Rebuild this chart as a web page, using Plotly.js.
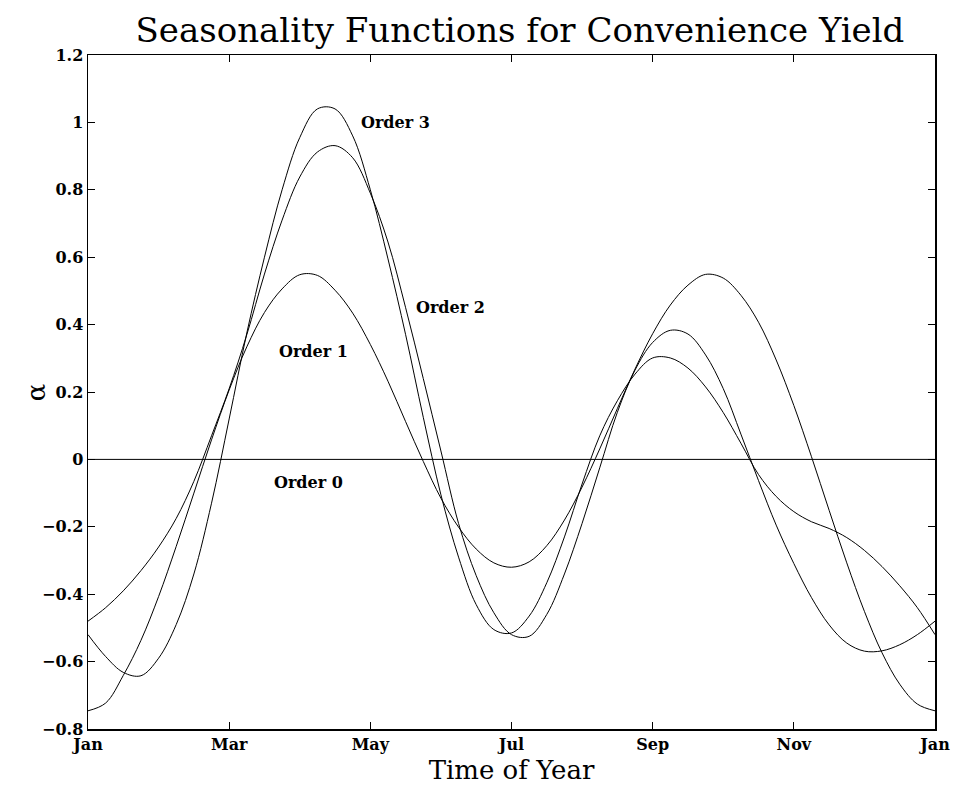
<!DOCTYPE html>
<html>
<head>
<meta charset="utf-8">
<script src="https://cdn.plot.ly/plotly-3.0.1.min.js"></script>
<style>html,body{margin:0;padding:0;background:#fff}#chart{width:958px;height:789px}</style>
</head>
<body>
<div id="chart"></div>
<script>
// months since January (0 = Jan, 12 = next Jan), quarter-month steps
const months = [0,0.25,0.5,0.75,1,1.25,1.5,1.75,2,2.25,2.5,2.75,3,3.25,3.5,3.75,4,4.25,4.5,4.75,5,5.25,5.5,5.75,6,
                6.25,6.5,6.75,7,7.25,7.5,7.75,8,8.25,8.5,8.75,9,9.25,9.5,9.75,10,10.25,10.5,10.75,11,11.25,11.5,11.75,12];
const order0 = [0,0,0,0,0,0,0,0,0,0,0,0,0,0,0,0,0,0,0,0,0,0,0,0,0,
                0,0,0,0,0,0,0,0,0,0,0,0,0,0,0,0,0,0,0,0,0,0,0,0];
const order1 = [-0.746,-0.723,-0.641,-0.537,-0.407,-0.258,-0.100,0.058,0.206,0.334,0.436,0.506,0.548,0.546,0.502,0.434,0.341,0.232,0.112,-0.006,-0.115,-0.201,-0.266,-0.307,-0.320,
                -0.304,-0.256,-0.180,-0.082,0.031,0.151,0.268,0.373,0.458,0.517,0.549,0.538,0.487,0.407,0.295,0.160,0.008,-0.151,-0.307,-0.451,-0.574,-0.667,-0.726,-0.746];
const order2 = [-0.48,-0.44,-0.39,-0.33,-0.26,-0.175,-0.065,0.07,0.21,0.37,0.55,0.71,0.838,0.912,0.931,0.895,0.79,0.645,0.45,0.24,0.025,-0.19,-0.345,-0.455,-0.52,
                -0.525,-0.46,-0.34,-0.19,-0.025,0.14,0.265,0.347,0.383,0.372,0.31,0.21,0.075,-0.063,-0.195,-0.309,-0.41,-0.491,-0.545,-0.569,-0.568,-0.55,-0.52,-0.48];
const order3 = [-0.52,-0.585,-0.632,-0.642,-0.59,-0.49,-0.34,-0.13,0.12,0.375,0.60,0.80,0.955,1.04,1.04,0.96,0.80,0.595,0.37,0.125,-0.105,-0.29,-0.431,-0.505,-0.515,
                -0.465,-0.366,-0.23,-0.073,0.07,0.174,0.253,0.301,0.301,0.271,0.215,0.139,0.048,-0.045,-0.11,-0.155,-0.185,-0.205,-0.232,-0.27,-0.318,-0.375,-0.44,-0.52];

const tickVals = [0,2,4,6,8,10,12];
const tickText = ['Jan','Mar','May','Jul','Sep','Nov','Jan'];
const yTicks = [-0.8,-0.6,-0.4,-0.2,0,0.2,0.4,0.6,0.8,1,1.2];

const labels = ['Order 0','Order 1','Order 2','Order 3'];
const labelX = [3.13, 3.2, 5.14, 4.35];
const labelY = [-0.07, 0.32, 0.45, 1.0];

const series = [order0, order1, order2, order3];
const traces = series.map((s, i) => ({
  x: months, y: s, type: 'scatter', mode: 'lines', name: labels[i],
  line: {color: '#000', width: 1, shape: i === 0 ? 'linear' : 'spline', smoothing: 1},
  hoverinfo: 'skip'
}));

const serif = 'DejaVu Serif, Liberation Serif, serif';
const layout = {
  width: 958, height: 789,
  margin: {l: 88, r: 23, t: 55, b: 60},
  paper_bgcolor: '#fff', plot_bgcolor: '#fff',
  showlegend: false,
  title: {text: 'Seasonality Functions for Convenience Yield', font: {family: serif, size: 34, color: '#000'},
          x: 0.51, xref: 'paper', y: 0.962, yref: 'container', yanchor: 'middle'},
  xaxis: {
    range: [0, 12], tickvals: tickVals, ticktext: tickText,
    ticks: 'inside', ticklen: 7, tickcolor: '#000', tickwidth: 1,
    showline: true, linecolor: '#000', linewidth: 1.5, mirror: 'ticks',
    showgrid: false, zeroline: false,
    tickfont: {family: serif, size: 16, color: '#000', weight: 'bold'},
    title: {text: 'Time of Year', font: {family: serif, size: 26, color: '#000'}, standoff: 8}
  },
  yaxis: {
    range: [-0.8, 1.2], tickvals: yTicks,
    ticktext: yTicks.map(v => v === 0 ? '0' : (v < 0 ? '\u2212' + Math.abs(v) : String(v))),
    ticks: 'inside', ticklen: 7, tickcolor: '#000', tickwidth: 1,
    showline: true, linecolor: '#000', linewidth: 1.5, mirror: 'ticks',
    showgrid: false, zeroline: false,
    tickfont: {family: serif, size: 16, color: '#000', weight: 'bold'}
  },
  annotations: labels.map((t, i) => ({
    x: labelX[i], y: labelY[i], xref: 'x', yref: 'y', text: t, showarrow: false,
    font: {family: serif, size: 16, color: '#000', weight: 'bold'}
  })).concat([{
    x: -0.061, y: 0.5, xref: 'paper', yref: 'paper', text: 'α', textangle: -90, showarrow: false,
    xanchor: 'center', yanchor: 'middle', font: {family: serif, size: 26, color: '#000'}
  }])
};

Plotly.newPlot('chart', traces, layout, {displayModeBar: false, staticPlot: true});
</script>
</body>
</html>
